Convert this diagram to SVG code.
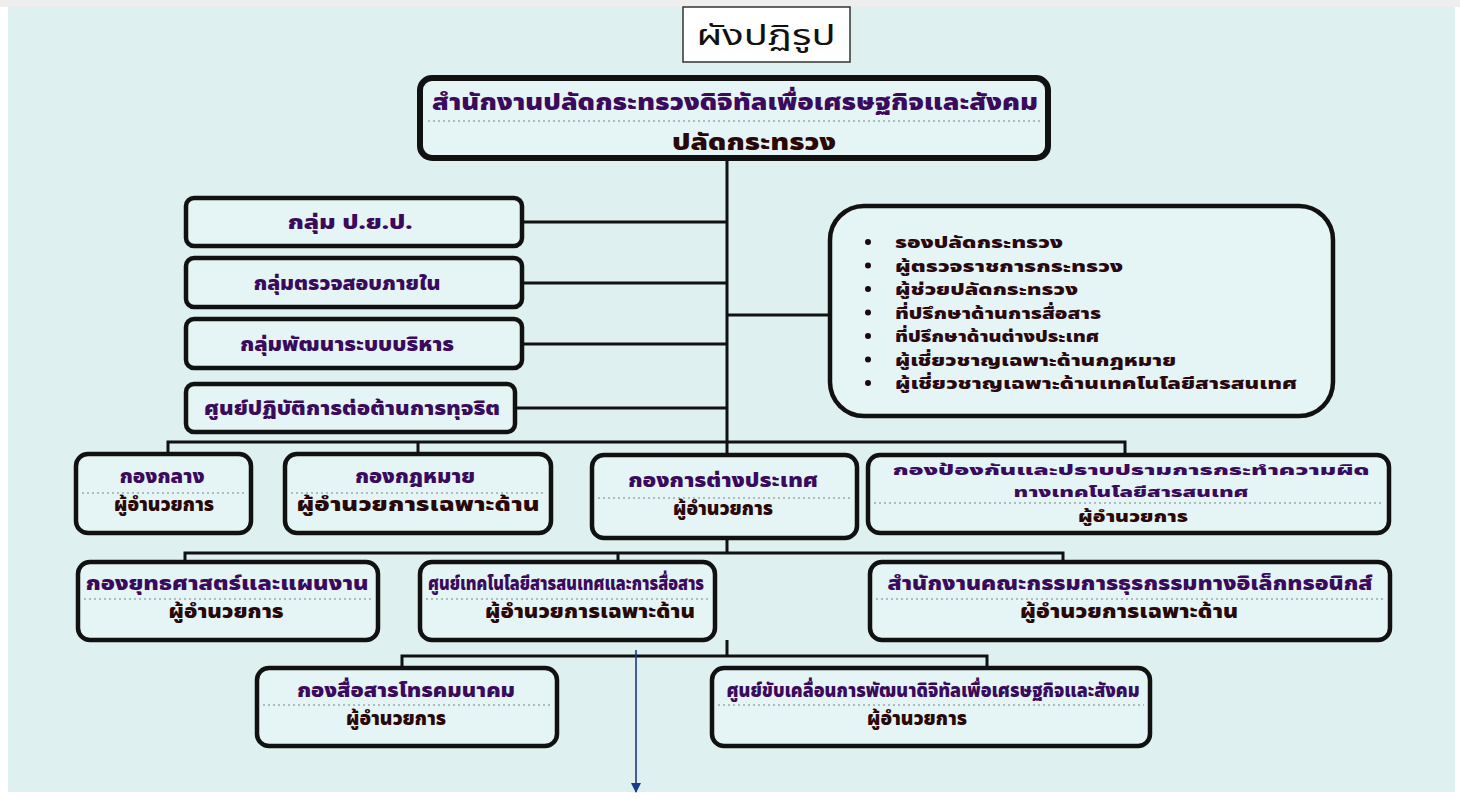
<svg xmlns="http://www.w3.org/2000/svg" width="1460" height="799" viewBox="0 0 1460 799">
<defs>
<style>
.bx{fill:#e5f4f4;stroke:#111;stroke-width:4.5}
.sep{stroke:#9aa;stroke-width:1.6;stroke-dasharray:2 3;fill:none}
.ln{stroke:#111;stroke-width:3;fill:none}
text{font-family:"Noto Sans Thai","Noto Sans Thai Looped","Loma","Garuda","Tahoma","DejaVu Sans",sans-serif;font-weight:900;text-anchor:middle}
.t1{fill:#3a0a5c;font-size:18.5px}
.t2{fill:#2a0808;font-size:18.5px}
.bl{fill:#2a0810;font-size:16px;text-anchor:start}
.dot{fill:#1a0a10}
</style>
<marker id="ah" viewBox="0 0 10 10" refX="9" refY="5" markerWidth="10" markerHeight="10" markerUnits="userSpaceOnUse" orient="auto">
<path d="M0,0 L10,5 L0,10 z" fill="#1a3a8c"/>
</marker>
</defs>
<rect x="0" y="0" width="1460" height="799" fill="#ffffff"/>
<rect x="0" y="0" width="1460" height="7" fill="#eeeeee"/>
<rect x="8" y="7" width="1447" height="785" fill="#def0f0"/>

<g id="connectors">
<path class="ln" d="M727,158 V553"/>
<path class="ln" d="M522,222 H727 M522,283 H727 M522,344 H727 M515,408 H727 M727,315 H830"/>
<path class="ln" d="M168,452 V442 H1125 V453 M418,442 V452"/>
<path class="ln" d="M185,562 V553 H1063 V562 M618,553 V562"/>
<path class="ln" d="M727,640 V656 M402,668 V656 H987 V668"/>
<line x1="636" y1="650" x2="636" y2="792" stroke="#1a3a8c" stroke-width="1.6" marker-end="url(#ah)"/>
</g>

<g id="title">
<rect x="683" y="7" width="167" height="55" fill="#ffffff" stroke="#333" stroke-width="1.5"/>
<text x="766" y="45" style="font-weight:normal;font-size:28px;fill:#111" textLength="139" lengthAdjust="spacingAndGlyphs">ผังปฏิรูป</text>
</g>

<g id="top">
<rect class="bx" x="420" y="78" width="628" height="80" rx="12" style="stroke-width:6"/>
<text class="t1" x="735" y="110" style="font-size:22px" textLength="606" lengthAdjust="spacingAndGlyphs">สำนักงานปลัดกระทรวงดิจิทัลเพื่อเศรษฐกิจและสังคม</text>
<line class="sep" x1="428" y1="121" x2="1042" y2="121"/>
<text class="t2" x="754" y="150" style="font-size:22px" textLength="164" lengthAdjust="spacingAndGlyphs">ปลัดกระทรวง</text>
</g>

<g id="g1">
<rect class="bx" x="186" y="198" width="336" height="48" rx="8"/>
<text class="t1" x="350" y="229" textLength="125" lengthAdjust="spacingAndGlyphs">กลุ่ม ป.ย.ป.</text>
</g>
<g id="g2">
<rect class="bx" x="186" y="258" width="336" height="49" rx="8"/>
<text class="t1" x="347" y="290" textLength="187" lengthAdjust="spacingAndGlyphs">กลุ่มตรวจสอบภายใน</text>
</g>
<g id="g3">
<rect class="bx" x="186" y="319" width="336" height="49" rx="8"/>
<text class="t1" x="347" y="351" textLength="214" lengthAdjust="spacingAndGlyphs">กลุ่มพัฒนาระบบบริหาร</text>
</g>
<g id="g4">
<rect class="bx" x="186" y="384" width="329" height="48" rx="8"/>
<text class="t1" x="352" y="415" textLength="296" lengthAdjust="spacingAndGlyphs">ศูนย์ปฏิบัติการต่อต้านการทุจริต</text>
</g>

<g id="advisors">
<rect class="bx" x="830" y="206" width="503" height="210" rx="34"/>
<circle class="dot" cx="868" cy="242" r="3"/>
<circle class="dot" cx="868" cy="265.5" r="3"/>
<circle class="dot" cx="868" cy="289" r="3"/>
<circle class="dot" cx="868" cy="312.5" r="3"/>
<circle class="dot" cx="868" cy="336" r="3"/>
<circle class="dot" cx="868" cy="359.5" r="3"/>
<circle class="dot" cx="868" cy="383" r="3"/>
<text class="bl" x="895" y="248" textLength="168" lengthAdjust="spacingAndGlyphs">รองปลัดกระทรวง</text>
<text class="bl" x="895" y="271.5" textLength="228" lengthAdjust="spacingAndGlyphs">ผู้ตรวจราชการกระทรวง</text>
<text class="bl" x="895" y="295" textLength="183" lengthAdjust="spacingAndGlyphs">ผู้ช่วยปลัดกระทรวง</text>
<text class="bl" x="895" y="318.5" textLength="206" lengthAdjust="spacingAndGlyphs">ที่ปรึกษาด้านการสื่อสาร</text>
<text class="bl" x="895" y="342" textLength="204" lengthAdjust="spacingAndGlyphs">ที่ปรึกษาด้านต่างประเทศ</text>
<text class="bl" x="895" y="365.5" textLength="281" lengthAdjust="spacingAndGlyphs">ผู้เชี่ยวชาญเฉพาะด้านกฎหมาย</text>
<text class="bl" x="895" y="389" textLength="402" lengthAdjust="spacingAndGlyphs">ผู้เชี่ยวชาญเฉพาะด้านเทคโนโลยีสารสนเทศ</text>
</g>

<g id="r1a">
<rect class="bx" x="76" y="454" width="175" height="79" rx="12"/>
<text class="t1" x="162" y="483" textLength="85" lengthAdjust="spacingAndGlyphs">กองกลาง</text>
<line class="sep" x1="82" y1="493" x2="245" y2="493"/>
<text class="t2" x="164" y="511" textLength="100" lengthAdjust="spacingAndGlyphs">ผู้อำนวยการ</text>
</g>
<g id="r1b">
<rect class="bx" x="285" y="454" width="266" height="79" rx="12"/>
<text class="t1" x="415" y="483" textLength="120" lengthAdjust="spacingAndGlyphs">กองกฎหมาย</text>
<line class="sep" x1="291" y1="493" x2="545" y2="493"/>
<text class="t2" x="418" y="511" textLength="243" lengthAdjust="spacingAndGlyphs">ผู้อำนวยการเฉพาะด้าน</text>
</g>
<g id="r1c">
<rect class="bx" x="592" y="455" width="265" height="83" rx="12"/>
<text class="t1" x="723" y="487" textLength="190" lengthAdjust="spacingAndGlyphs">กองการต่างประเทศ</text>
<line class="sep" x1="598" y1="498" x2="851" y2="498"/>
<text class="t2" x="723" y="515" textLength="100" lengthAdjust="spacingAndGlyphs">ผู้อำนวยการ</text>
</g>
<g id="r1d">
<rect class="bx" x="868" y="455" width="521" height="78" rx="12"/>
<text class="t1" x="1131" y="475" style="font-size:14.5px" textLength="477" lengthAdjust="spacingAndGlyphs">กองป้องกันและปราบปรามการกระทำความผิด</text>
<text class="t1" x="1131" y="497" style="font-size:14.5px" textLength="235" lengthAdjust="spacingAndGlyphs">ทางเทคโนโลยีสารสนเทศ</text>
<line class="sep" x1="874" y1="503" x2="1383" y2="503"/>
<text class="t2" x="1133" y="522" style="font-size:16px" textLength="110" lengthAdjust="spacingAndGlyphs">ผู้อำนวยการ</text>
</g>

<g id="r2a">
<rect class="bx" x="78" y="562" width="300" height="78" rx="12"/>
<text class="t1" x="227" y="590" textLength="283" lengthAdjust="spacingAndGlyphs">กองยุทธศาสตร์และแผนงาน</text>
<line class="sep" x1="84" y1="599" x2="372" y2="599"/>
<text class="t2" x="226" y="618" textLength="115" lengthAdjust="spacingAndGlyphs">ผู้อำนวยการ</text>
</g>
<g id="r2b">
<rect class="bx" x="420" y="562" width="295" height="78" rx="12"/>
<text class="t1" x="566" y="590" textLength="276" lengthAdjust="spacingAndGlyphs">ศูนย์เทคโนโลยีสารสนเทศและการสื่อสาร</text>
<line class="sep" x1="426" y1="599" x2="709" y2="599"/>
<text class="t2" x="590" y="618" textLength="210" lengthAdjust="spacingAndGlyphs">ผู้อำนวยการเฉพาะด้าน</text>
</g>
<g id="r2c">
<rect class="bx" x="870" y="562" width="520" height="78" rx="12"/>
<text class="t1" x="1130" y="590" textLength="485" lengthAdjust="spacingAndGlyphs">สำนักงานคณะกรรมการธุรกรรมทางอิเล็กทรอนิกส์</text>
<line class="sep" x1="876" y1="599" x2="1384" y2="599"/>
<text class="t2" x="1129" y="618" textLength="218" lengthAdjust="spacingAndGlyphs">ผู้อำนวยการเฉพาะด้าน</text>
</g>

<g id="r3a">
<rect class="bx" x="257" y="668" width="300" height="78" rx="12"/>
<text class="t1" x="406" y="697" textLength="218" lengthAdjust="spacingAndGlyphs">กองสื่อสารโทรคมนาคม</text>
<line class="sep" x1="263" y1="705" x2="551" y2="705"/>
<text class="t2" x="396" y="725" textLength="100" lengthAdjust="spacingAndGlyphs">ผู้อำนวยการ</text>
</g>
<g id="r3b">
<rect class="bx" x="712" y="668" width="438" height="78" rx="12"/>
<text class="t1" x="933" y="697" textLength="413" lengthAdjust="spacingAndGlyphs">ศูนย์ขับเคลื่อนการพัฒนาดิจิทัลเพื่อเศรษฐกิจและสังคม</text>
<line class="sep" x1="718" y1="705" x2="1144" y2="705"/>
<text class="t2" x="917" y="725" textLength="100" lengthAdjust="spacingAndGlyphs">ผู้อำนวยการ</text>
</g>
</svg>
